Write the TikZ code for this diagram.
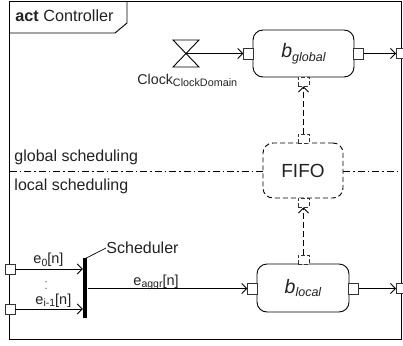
\documentclass[tikz,border=0pt]{standalone}
\usepackage{fontspec}
\setmainfont{Liberation Sans}
\usetikzlibrary{arrows.meta}
\definecolor{txt}{HTML}{222222}
\newcommand{\fs}[1]{\fontsize{#1}{#1}\selectfont}
\begin{document}
\begin{tikzpicture}[x=1pt,y=-1pt,line width=0.9pt,
  every node/.style={text=txt},
  lbl/.style={anchor=base west,inner sep=0pt},
  hport/.style={draw=black!80,fill=white,rectangle,minimum width=9.5pt,minimum height=11pt,inner sep=0pt},
  vport/.style={draw=black!80,fill=white,rectangle,dashed,dash pattern=on 4pt off 2pt,minimum width=11pt,minimum height=9pt,inner sep=0pt},
  fport/.style={draw=black!80,fill=white,rectangle,minimum width=10pt,minimum height=10pt,inner sep=0pt},
  actbox/.style={draw=black,rounded corners=10pt,rectangle,inner sep=0pt},
  flow/.style={-{Straight Barb[length=5pt,width=10pt]}},
  dflow/.style={-{Straight Barb[length=5pt,width=10pt]},dash pattern=on 6pt off 3pt},
  sep/.style={dash pattern=on 7pt off 3pt on 1.5pt off 3pt}]
\useasboundingbox (0,0) rectangle (403,345);
% frame
\draw (9.5,1.5) rectangle (401.5,339);
\draw (9.5,33) -- (115,33) -- (127,23) -- (127,1.5);
\node[lbl] (title) at (15,22) {\fs{16.2}\textbf{act} Controller};
% separator
\coordinate (dl) at (9.5,171);
\coordinate (dr) at (401.5,171);
\node[actbox,dashed,dash pattern=on 5pt off 3pt,minimum width=80pt,minimum height=55pt] (fifo) at (303,170.5) {\fs{19}FIFO};
\draw[sep] (dl) -- (dl -| fifo.west);
\draw[sep] (fifo.east |- dr) -- (dr);
\node[lbl] (gs) at (14,161.5) {\fs{16}global scheduling};
\node[lbl] (ls) at (14,190) {\fs{16}local scheduling};
% b_global
\node[actbox,minimum width=101pt,minimum height=47pt] (bg) at (303.5,53.5)
  {\fs{19.5}\itshape b\raisebox{-3.5pt}{\fs{12.5}global}};
\node[hport] (pgl) at (248.5,53.5) {};
\node[hport] (pgr) at (358.5,53.5) {};
\node[vport] (pgb) at (303.5,81.5) {};
\node[fport] (fr1) at (401.5,53.5) {};
% b_local
\node[actbox,minimum width=92pt,minimum height=48pt] (bl) at (303,288)
  {\fs{19.5}\itshape b\raisebox{-3.5pt}{\fs{12.5}local}};
\node[hport] (pll) at (252.5,288.5) {};
\node[hport] (plr) at (353.5,288.5) {};
\node[vport] (plt) at (303.5,259.5) {};
\node[fport] (fr2) at (401.5,288.5) {};
% fifo ports
\node[vport] (pft) at (303.5,138.5) {};
\node[vport] (pfb) at (303.5,202.5) {};
% clock
\draw (173,40) -- (199,40) -- (173,67) -- (199,67) -- cycle;
\coordinate (clk) at (186,53.5);
\node[lbl] (clklbl) at (137,84) {\fs{14.2}Clock\raisebox{-2.5pt}{\fs{10.8}ClockDomain}};
% left ports and scheduler
\node[fport] (fl1) at (10,269) {};
\node[fport] (fl2) at (10,309) {};
\node[rectangle,fill=black,minimum width=4pt,minimum height=60pt,inner sep=0pt] (sched) at (85.3,288) {};
\node[lbl] (schedlbl) at (106,253) {\fs{16}Scheduler};
\coordinate (ldr) at (106,248);
\draw[line width=0.7pt] (sched.north) ++(0,1) -- (ldr);
\node[lbl] (e0) at (33,263.5) {\fs{14.5}e\raisebox{-2.5pt}{\fs{10.5}0}[n]};
\node[lbl] (ei) at (35,304) {\fs{14.5}e\raisebox{-2.5pt}{\fs{10.5}i-1}[n]};
\node[lbl] (ea) at (133,285) {\fs{14.5}e\raisebox{-2.5pt}{\fs{10.5}aggr}[n]};
\fill[txt] (46,281.7) circle (0.6pt) (46,288.3) circle (0.6pt);
% connectors
\draw[flow] (clk) -- (pgl.west);
\draw[flow] (pgr.east) -- (fr1.west);
\draw[flow] (plr.east) -- (fr2.west);
\draw[flow] (fl1.east) -- (fl1.east -| sched.west);
\draw[flow] (fl2.east) -- (fl2.east -| sched.west);
\draw[flow] (sched.east |- pll.west) -- (pll.west);
\draw[dflow] (pft.north) -- (pgb.south);
\draw[dflow] (plt.north) -- (pfb.south);
\end{tikzpicture}
\end{document}
